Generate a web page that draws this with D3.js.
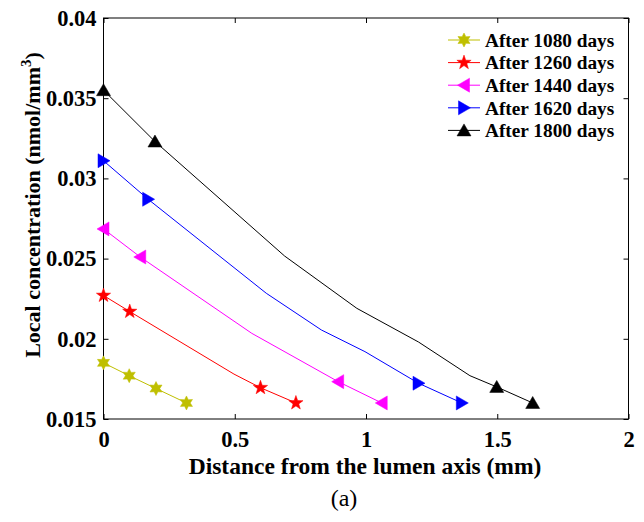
<!DOCTYPE html>
<html><head><meta charset="utf-8">
<script src="https://cdn.jsdelivr.net/npm/d3@7"></script>
<style>body{margin:0;background:#fff}svg{display:block}text{font-family:"Liberation Serif","Times New Roman",serif}</style>
</head><body><svg id="c" width="644" height="522"></svg>
<script>
const seriesNames = ["After 1080 days","After 1260 days","After 1440 days","After 1620 days","After 1800 days"];
const seriesColors = ["#bfbf00","#ff0000","#ff00ff","#0000ff","#000000"];
const seriesMarkers = ["hexagram","pentagram","triLeft","triRight","triUp"];
// line vertices (x in mm, concentration) and marker points
const x1080 = [0, 0.098, 0.2, 0.316];
const y1080 = [0.0185, 0.0177, 0.0169, 0.0160];
const m1080 = [0, 1, 2, 3];
const x1260 = [0, 0.1, 0.497, 0.598, 0.733];
const y1260 = [0.0227, 0.0217, 0.0178, 0.01695, 0.0160];
const m1260 = [0, 1, 3, 4];
const x1440 = [0, 0.14, 0.565, 0.894, 1.06];
const y1440 = [0.02685, 0.0251, 0.02034, 0.01733, 0.0160];
const m1440 = [0, 1, 3, 4];
const x1620 = [0, 0.17, 0.62, 0.83, 0.996, 1.2, 1.365];
const y1620 = [0.0311, 0.0287, 0.02284, 0.02055, 0.0192, 0.01723, 0.0160];
const m1620 = [0, 1, 5, 6];
const x1800 = [0, 0.196, 0.69, 0.965, 1.2, 1.396, 1.498, 1.635];
const y1800 = [0.0355, 0.0323, 0.02516, 0.0219, 0.0198, 0.0177, 0.0170, 0.0160];
const m1800 = [0, 1, 6, 7];
const xTicks = [0, 0.5, 1, 1.5, 2];
const xTickLabels = ["0","0.5","1","1.5","2"];
const yTicks = [0.015, 0.02, 0.025, 0.03, 0.035, 0.04];
const yTickLabels = ["0.015","0.02","0.025","0.03","0.035","0.04"];

const allX = [x1080,x1260,x1440,x1620,x1800];
const allY = [y1080,y1260,y1440,y1620,y1800];
const allM = [m1080,m1260,m1440,m1620,m1800];

const svg = d3.select("#c");
const L = 103.5, R = 628.5, T = 18, B = 419;
const x = d3.scaleLinear().domain([0,2]).range([L,R]);
const y = d3.scaleLinear().domain([0.015,0.04]).range([B,T]);

function markerPath(type){
  const p = d3.path();
  if(type==="triUp"){ p.moveTo(0,-6.5); p.lineTo(7,5.5); p.lineTo(-7,5.5); p.closePath(); }
  else if(type==="triLeft"){ p.moveTo(-6.5,0); p.lineTo(5.5,-7); p.lineTo(5.5,7); p.closePath(); }
  else if(type==="triRight"){ p.moveTo(6.5,0); p.lineTo(-5.5,-7); p.lineTo(-5.5,7); p.closePath(); }
  else if(type==="pentagram"){
    for(let i=0;i<10;i++){ const r = i%2?3:7.5; const a = -Math.PI/2 + i*Math.PI/5;
      const px=r*Math.cos(a), py=r*Math.sin(a); i?p.lineTo(px,py):p.moveTo(px,py);} p.closePath();
  } else if(type==="hexagram"){
    for(let i=0;i<12;i++){ const r = i%2?3.8:7; const a = -Math.PI/2 + i*Math.PI/6;
      const px=r*Math.cos(a), py=r*Math.sin(a); i?p.lineTo(px,py):p.moveTo(px,py);} p.closePath();
  }
  return p.toString();
}

// frame
svg.append("rect").attr("x",L).attr("y",T).attr("width",R-L).attr("height",B-T)
  .attr("fill","none").attr("stroke","#000").attr("stroke-width",1);

// axes
const xAxisB = d3.axisBottom(x).tickValues(xTicks).tickFormat((d,i)=>xTickLabels[i]).tickSizeInner(-5).tickSizeOuter(0).tickPadding(12);
const gx = svg.append("g").attr("transform",`translate(0,${B})`).call(xAxisB);
const xAxisT = d3.axisTop(x).tickValues(xTicks).tickFormat("").tickSizeInner(-5).tickSizeOuter(0);
const gxt = svg.append("g").attr("transform",`translate(0,${T})`).call(xAxisT);
const yAxisL = d3.axisLeft(y).tickValues(yTicks).tickFormat((d,i)=>yTickLabels[i]).tickSizeInner(-5).tickSizeOuter(0).tickPadding(7);
const gy = svg.append("g").attr("transform",`translate(${L},0)`).call(yAxisL);
const yAxisR = d3.axisRight(y).tickValues(yTicks).tickFormat("").tickSizeInner(-5).tickSizeOuter(0);
const gyr = svg.append("g").attr("transform",`translate(${R},0)`).call(yAxisR);
[gx,gxt,gy,gyr].forEach(g=>{ g.select(".domain").remove(); g.selectAll("line").attr("stroke","#000"); });
[gx,gy].forEach(g=>g.selectAll("text").attr("font-size",22.5).attr("font-weight","bold").attr("fill","#000")
   .style("font-family","'Liberation Serif',serif"));

// series
const line = d3.line().x(d=>x(d[0])).y(d=>y(d[1]));
allX.forEach((xs,k)=>{
  const pts = xs.map((v,i)=>[v, allY[k][i]]);
  svg.append("path").attr("d",line(pts)).attr("fill","none").attr("stroke",seriesColors[k]).attr("stroke-width",1);
  svg.selectAll(null).data(allM[k].map(i=>pts[i])).enter().append("path")
    .attr("d",markerPath(seriesMarkers[k]))
    .attr("transform",d=>`translate(${x(d[0])},${y(d[1])})`)
    .attr("fill",seriesColors[k]).attr("stroke",seriesColors[k]).attr("stroke-width",0.5);
});

// legend
const lg = svg.append("g");
const ly0 = 40, ldy = 22.6;
seriesNames.forEach((n,k)=>{
  const yy = ly0 + k*ldy;
  lg.append("line").attr("x1",448).attr("x2",480).attr("y1",yy).attr("y2",yy).attr("stroke",seriesColors[k]).attr("stroke-width",1);
  lg.append("path").attr("d",markerPath(seriesMarkers[k])).attr("transform",`translate(464,${yy})`).attr("fill",seriesColors[k]).attr("stroke",seriesColors[k]).attr("stroke-width",0.5);
  lg.append("text").attr("x",485).attr("y",yy).attr("dy","0.35em").attr("font-size",19.3).attr("font-weight","bold").text(n);
});

// axis titles
svg.append("text").attr("x",365).attr("y",474).attr("text-anchor","middle").attr("font-size",23.5).attr("font-weight","bold")
  .text("Distance from the lumen axis (mm)");
const yl = svg.append("text").attr("transform","translate(40,205) rotate(-90)").attr("text-anchor","middle").attr("font-size",22).attr("font-weight","bold");
yl.append("tspan").text("Local concentration (nmol/mm");
yl.append("tspan").attr("dy",-9).attr("font-size",15).text("3");
yl.append("tspan").attr("dy",9).text(")");
svg.append("text").attr("x",344).attr("y",506).attr("text-anchor","middle").attr("font-size",24).text("(a)");
</script></body></html>
